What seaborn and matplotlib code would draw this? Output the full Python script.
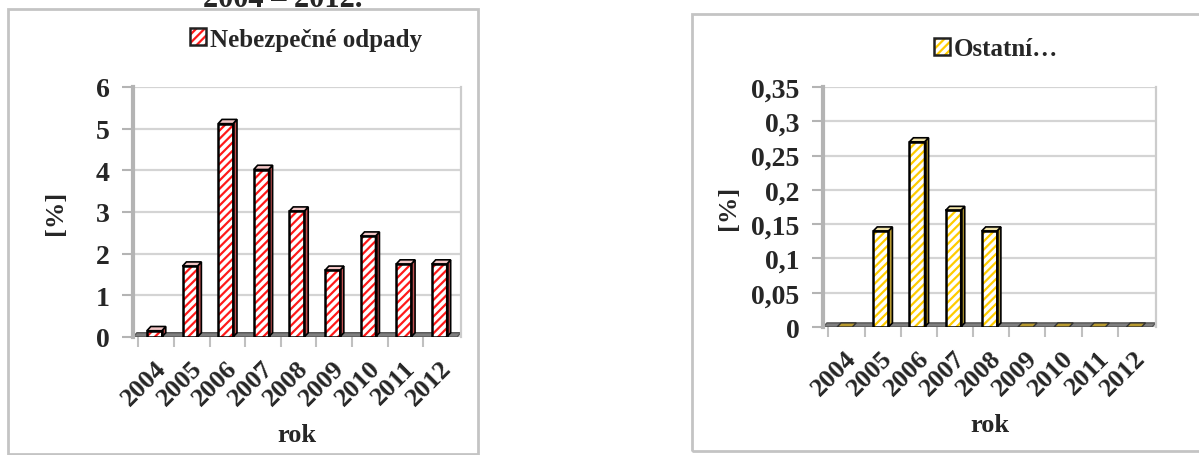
import numpy as np
import pandas as pd
import seaborn as sns
import matplotlib.pyplot as plt
from matplotlib.patches import Polygon, Rectangle, Patch
from matplotlib.legend_handler import HandlerTuple
from matplotlib.ticker import FuncFormatter

# data
years = ['2004', '2005', '2006', '2007', '2008', '2009', '2010', '2011', '2012']
nebezpecne = [0.15, 1.7, 5.12, 4.02, 3.02, 1.6, 2.42, 1.75, 1.75]
ostatni = [0, 0.14, 0.27, 0.17, 0.14, 0, 0, 0, 0]
y_ticks_left = [0, 1, 2, 3, 4, 5, 6]
y_ticks_right = [0, 0.05, 0.1, 0.15, 0.2, 0.25, 0.3, 0.35]

sns.set_style('white')
plt.rcParams['font.family'] = ['Liberation Serif', 'DejaVu Serif']
plt.rcParams['font.weight'] = 'bold'
plt.rcParams['hatch.linewidth'] = 1.6

fig = plt.figure(figsize=(11.99, 4.56), dpi=100)
W, H = 1199, 456


def px_axes(x0, y0, x1, y1):
    return fig.add_axes([x0 / W, 1 - y1 / H, (x1 - x0) / W, (y1 - y0) / H])


def draw_3d_bar_chart(ax, vals, ymax, ticks, hatch_col, side_col, top_col, fmt=None):
    df = pd.DataFrame({'rok': years, 'val': vals})
    sns.barplot(data=df, x='rok', y='val', ax=ax, color='white', edgecolor=hatch_col,
                hatch='////', width=0.42, linewidth=0, errorbar=None, zorder=3)
    dx = 0.11
    dy = ymax * 0.017
    # floor
    ax.add_patch(Polygon([(-0.6, 0), (8.5, 0), (8.5 + dx, dy), (-0.6 + dx, dy)],
                         closed=True, facecolor='#7f7f7f', edgecolor='#555555', lw=1, zorder=2))
    for p in ax.patches[:len(vals)]:
        x, w, h = p.get_x(), p.get_width(), p.get_height()
        if h == 0:
            ax.add_patch(Polygon([(x, 0), (x + dx, dy), (x + w + dx, dy), (x + w, 0)],
                                 closed=True, facecolor=side_col, edgecolor='#333333', lw=1, zorder=4))
            continue
        ax.add_patch(Polygon([(x + w, 0), (x + w + dx, dy), (x + w + dx, h + dy), (x + w, h)],
                             closed=True, facecolor=side_col, edgecolor='black', lw=1.2, zorder=4))
        ax.add_patch(Polygon([(x, h), (x + dx, h + dy), (x + w + dx, h + dy), (x + w, h)],
                             closed=True, facecolor=top_col, edgecolor='black', lw=1.2, zorder=4))
        ax.add_patch(Rectangle((x, 0), w, h, fill=False, edgecolor='black', lw=1.8, zorder=5))

    ax.set_xlim(-0.6, 8.5 + dx)
    ax.set_ylim(0, ymax)
    ax.set_yticks(ticks)
    if fmt:
        ax.yaxis.set_major_formatter(FuncFormatter(fmt))
    ax.yaxis.grid(True, color='#d4d4d4', lw=1.6, zorder=0)
    ax.set_axisbelow(True)
    for s in ['top', 'bottom']:
        ax.spines[s].set_visible(False)
    ax.spines['left'].set_color('#b4b4b4')
    ax.spines['left'].set_linewidth(3)
    ax.spines['right'].set_color('#cccccc')
    ax.spines['right'].set_linewidth(1.6)
    ax.tick_params(axis='y', left=True, length=8, width=1.5, color='#b4b4b4',
                   labelsize=20, pad=9)
    ax.set_xticks(np.arange(9) - 0.45, minor=True)
    ax.tick_params(axis='x', which='minor', bottom=True, length=7, width=1.5, color='#c0c0c0')
    ax.tick_params(axis='x', which='major', bottom=False, labelsize=19, pad=10)
    for lbl in ax.get_xticklabels():
        lbl.set_rotation(45)
        lbl.set_ha('right')
        lbl.set_rotation_mode('anchor')
        lbl.set_fontweight('bold')
    for lbl in ax.get_yticklabels():
        lbl.set_fontweight('bold')
    ax.set_xlabel('rok', fontsize=19, fontweight='bold', labelpad=10)
    ax.set_ylabel('[%]', fontsize=19, fontweight='bold')


ax1 = px_axes(133, 88, 461, 338)
draw_3d_bar_chart(ax1, nebezpecne, 6, y_ticks_left, '#ff1a1a', '#c05050', '#f2c6c6')
ax1.yaxis.set_label_coords(-0.20, 0.5)

ax2 = px_axes(823, 88, 1156, 328)
draw_3d_bar_chart(ax2, ostatni, 0.35, y_ticks_right, '#ffcc00', '#b89a30', '#efe2a8',
                  fmt=lambda v, pos: f'{v:g}'.replace('.', ','))
ax2.yaxis.set_label_coords(-0.25, 0.5)


# legends: hatched square with a dark outline
def legend_handle(col):
    return (Patch(facecolor='white', edgecolor=col, hatch='////', lw=0),
            Patch(fill=False, edgecolor='#222222', lw=1.8))


fig.legend(handles=[legend_handle('#ff1a1a')], labels=['Nebezpečné odpady'],
           handler_map={tuple: HandlerTuple()}, loc='center',
           bbox_to_anchor=(306 / W, 1 - 40 / H), frameon=False,
           handlelength=0.65, handleheight=0.65, handletextpad=0.15,
           prop={'weight': 'bold', 'size': 18})
fig.legend(handles=[legend_handle('#ffcc00')], labels=['Ostatní…'],
           handler_map={tuple: HandlerTuple()}, loc='center',
           bbox_to_anchor=(996 / W, 1 - 50 / H), frameon=False,
           handlelength=0.65, handleheight=0.65, handletextpad=0.15,
           prop={'weight': 'bold', 'size': 18})

# frames around the two charts
fig.add_artist(Rectangle((8 / W, 1 - 455 / H), 470 / W, 445 / H, transform=fig.transFigure,
                         fill=False, edgecolor='#c4c4c4', lw=2))
fig.add_artist(Rectangle((692 / W, 1 - 452 / H), 520 / W, 437 / H, transform=fig.transFigure,
                         fill=False, edgecolor='#c4c4c4', lw=2))

# heading above the chart, cut at the page edge as in the source
fig.text(283 / W, 1 - 7 / H, '2004 – 2012.', ha='center', va='baseline',
         fontsize=22, fontweight='bold')

fig.savefig('out.png', dpi=100)
